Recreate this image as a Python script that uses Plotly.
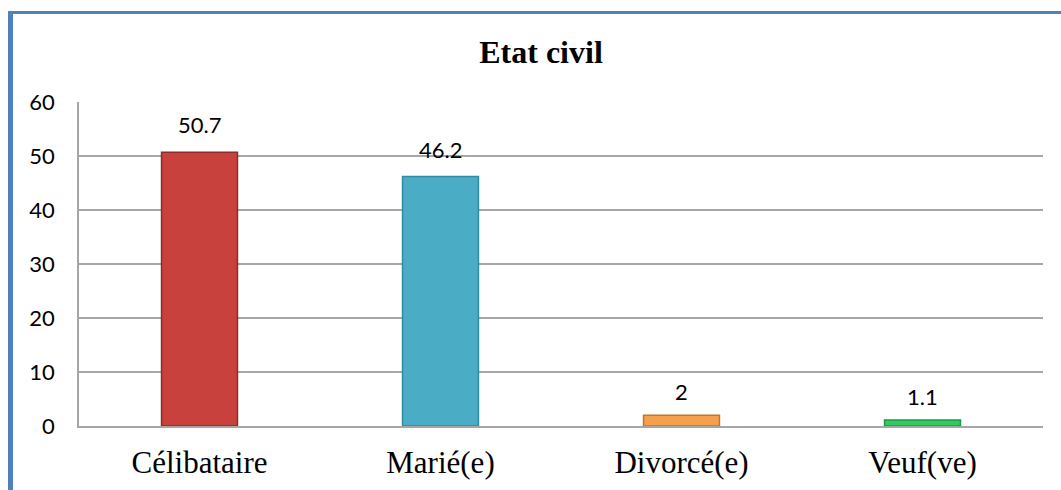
import plotly.graph_objects as go

categories = ["Célibataire", "Marié(e)", "Divorcé(e)", "Veuf(ve)"]
values = [50.7, 46.2, 2, 1.1]
value_labels = ["50.7", "46.2", "2", "1.1"]
bar_colors = ["#c9413d", "#4bacc6", "#f6a04d", "#2fcc62"]
line_colors = ["#8e2a28", "#2f8aa3", "#c87426", "#1a9a44"]
y_ticks = [0, 10, 20, 30, 40, 50, 60]

W, H = 1061, 490
L, R, T, B = 79, 18, 102, 64
pw, ph = W - L - R, H - T - B

def px_x(px):
    return (px - L) / pw

def px_y(py):
    return (H - B - py) / ph

sans = "Lato, Liberation Sans, sans-serif"
serif = "Liberation Serif, Times New Roman, serif"

fig = go.Figure()
fig.add_trace(go.Bar(
    x=categories, y=values,
    marker=dict(color=bar_colors, line=dict(color=line_colors, width=1.5)),
    width=0.315, hoverinfo="skip",
))

for c, v, t in zip(categories, values, value_labels):
    fig.add_annotation(x=c, y=v, text=t, showarrow=False, yanchor="bottom",
                       yshift=12 if v > 10 else 8,
                       font=dict(family=sans, size=22, color="#000"))

# outer blue frame (left and top edges visible)
fig.add_shape(type="line", xref="paper", yref="paper",
              x0=px_x(10.5), x1=px_x(10.5), y0=px_y(11), y1=px_y(495),
              line=dict(color="#4f81bd", width=5))
fig.add_shape(type="line", xref="paper", yref="paper",
              x0=px_x(8), x1=px_x(1070), y0=px_y(12.5), y1=px_y(12.5),
              line=dict(color="#4f81bd", width=3))

fig.update_layout(
    width=W, height=H,
    margin=dict(l=L, r=R, t=T, b=B, autoexpand=False),
    paper_bgcolor="white", plot_bgcolor="white",
    showlegend=False,
    bargap=0.685,
    title=dict(text="<b>Etat civil</b>", x=px_x(541), xref="paper",
               y=1 - 52 / H, yanchor="middle", xanchor="center",
               font=dict(family=serif, size=32, color="#000")),
)
fig.update_yaxes(range=[0, 60], tickvals=y_ticks, showgrid=True, gridcolor="#a6a6a6", gridwidth=1.5,
                 showline=True, linecolor="#a6a6a6", linewidth=1.5, zeroline=False,
                 ticks="", ticklabelstandoff=18, automargin=False,
                 tickfont=dict(family=sans, size=22, color="#000"))
fig.update_xaxes(showline=True, linecolor="#a6a6a6", linewidth=1.5, showgrid=False,
                 ticks="", ticklabelstandoff=8, automargin=False,
                 tickfont=dict(family=serif, size=31, color="#000"))

fig.write_html("out.html", config={"displayModeBar": False},
               post_script="document.body.style.margin='0';document.body.style.overflow='hidden';")
